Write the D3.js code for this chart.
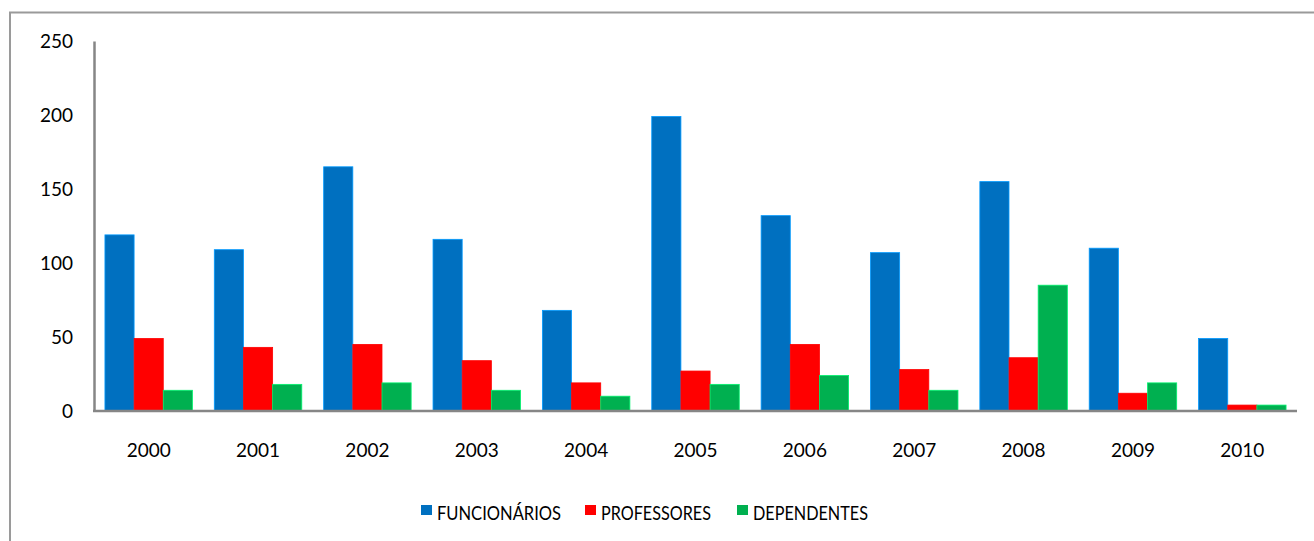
<!DOCTYPE html>
<html>
<head>
<meta charset="utf-8">
<script src="https://cdn.jsdelivr.net/npm/d3@7"></script>
<style>
  body { margin: 0; background: #fff; }
  text { font-family: Lato, "Liberation Sans", sans-serif; fill: #000; }
</style>
</head>
<body>
<div id="chart"></div>
<script>
const anos = ["2000","2001","2002","2003","2004","2005","2006","2007","2008","2009","2010"];
const series = ["FUNCIONÁRIOS","PROFESSORES","DEPENDENTES"];
const funcionarios = [119,109,165,116,68,199,132,107,155,110,49];
const professores  = [49,43,45,34,19,27,45,28,36,12,4];
const dependentes  = [14,18,19,14,10,18,24,14,85,19,4];
const cores = ["#0070C0","#FF0000","#00B050"];
const yTicks = [0,50,100,150,200,250];

const W = 1314, H = 541;
const valores = [funcionarios, professores, dependentes];

const svg = d3.select("#chart").append("svg")
  .attr("width", W).attr("height", H);

// moldura do grafico
svg.append("rect")
  .attr("x", 10).attr("y", 12.5)
  .attr("width", W + 20).attr("height", H)
  .attr("fill", "none").attr("stroke", "#9a9a9a").attr("stroke-width", 2);

const x = d3.scaleBand().domain(anos).range([94, 1297]).paddingInner(0.2).paddingOuter(0.1);
const xs = d3.scaleBand().domain(series).range([0, x.bandwidth()]);
const y = d3.scaleLinear().domain([0, 250]).range([411, 41]);

// barras
const grupos = svg.append("g").selectAll("g")
  .data(anos).join("g")
  .attr("transform", d => "translate(" + x(d) + ",0)");

grupos.selectAll("rect")
  .data((d, i) => series.map((s, k) => ({ s: s, k: k, v: valores[k][i] })))
  .join("rect")
  .attr("x", d => xs(d.s))
  .attr("y", d => y(d.v))
  .attr("width", xs.bandwidth())
  .attr("height", d => y(0) - y(d.v))
  .attr("fill", d => cores[d.k])
  .attr("stroke", d => d3.color(cores[d.k]).brighter(0.9))
  .attr("stroke-width", 0.8);

// eixo y
const yAxis = svg.append("g")
  .attr("transform", "translate(94,0)")
  .call(d3.axisLeft(y).tickValues(yTicks).tickSize(0).tickPadding(21));
yAxis.select(".domain").attr("stroke", "#868686").attr("stroke-width", 2.5);
yAxis.selectAll("text").style("font-size", "19px").attr("fill", "#000");

// eixo x
const xAxis = svg.append("g")
  .attr("transform", "translate(0,411)")
  .call(d3.axisBottom(x).tickSize(0).tickPadding(33));
xAxis.select(".domain").attr("stroke", "#868686").attr("stroke-width", 2.5)
  .attr("d", "M93,0H1297");
xAxis.selectAll("text").style("font-size", "19px").attr("fill", "#000");

// legenda
const legX = [421, 585, 737];
const legW = [124, 110, 115];
const leg = svg.append("g").selectAll("g")
  .data(series).join("g")
  .attr("transform", (d, i) => "translate(" + legX[i] + ",505)");
leg.append("rect")
  .attr("width", 11).attr("height", 10)
  .attr("fill", (d, i) => cores[i]);
leg.append("text")
  .attr("x", 16).attr("y", 14.5)
  .style("font-size", "19px")
  .attr("textLength", (d, i) => legW[i])
  .attr("lengthAdjust", "spacingAndGlyphs")
  .text(d => d);
</script>
</body>
</html>
